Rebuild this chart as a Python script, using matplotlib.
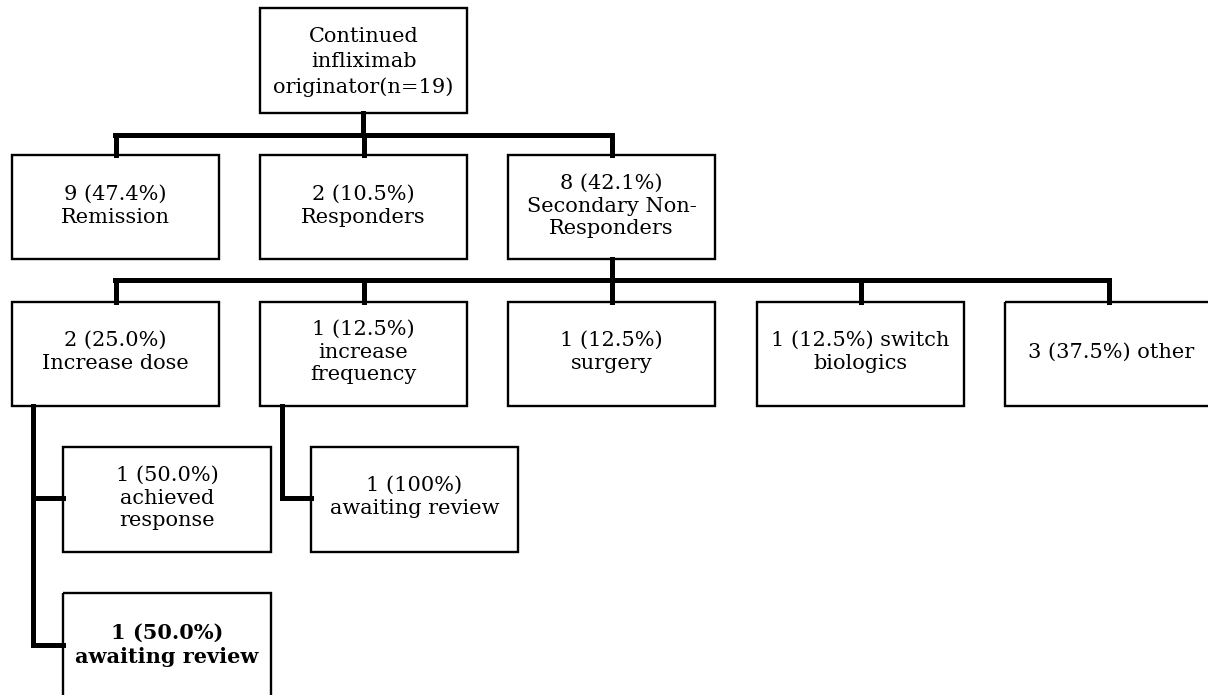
import matplotlib.pyplot as plt
from matplotlib.patches import Rectangle

# labels of the flow chart
top_label = "Continued\ninfliximab\noriginator(n=19)"
outcome_labels = ["9 (47.4%)\nRemission",
                  "2 (10.5%)\nResponders",
                  "8 (42.1%)\nSecondary Non-\nResponders"]
snr_labels = ["2 (25.0%)\nIncrease dose",
              "1 (12.5%)\nincrease\nfrequency",
              "1 (12.5%)\nsurgery",
              "1 (12.5%) switch\nbiologics",
              "3 (37.5%) other"]
dose_labels = ["1 (50.0%)\nachieved\nresponse",
               "1 (50.0%)\nawaiting review"]
freq_labels = ["1 (100%)\nawaiting review"]

# layout (pixels, y downwards)
W, H = 1208, 695
box_w = 207
col_x = [12, 260, 508, 757, 1005]
font = ['DejaVu Serif']
fs = 15
thin = 1.7
thick = 3.6

fig = plt.figure(figsize=(W / 100, H / 100), dpi=100)
ax = fig.add_axes([0, 0, 1, 1])
ax.set_xlim(0, W)
ax.set_ylim(H, 0)
ax.axis('off')


def box(x, y, w, h, text, bold=False, text_y=None, ls=1.25):
    ax.add_patch(Rectangle((x, y), w, h, fill=False, edgecolor='black', lw=thin, zorder=3))
    ty = y + h / 2 if text_y is None else text_y
    ax.text(x + w / 2, ty, text, ha='center', va='center', fontsize=fs,
            family=font, fontweight='bold' if bold else 'normal',
            linespacing=ls, zorder=4)


def line(xs, ys):
    ax.plot(xs, ys, color='black', lw=thick, solid_capstyle='projecting',
            solid_joinstyle='miter', zorder=2)


# top box
box(260, 8, box_w, 105, top_label, ls=1.4, text_y=62)

# first level
line([363, 363], [113, 135])
line([115, 612], [135, 135])
for i, lab in enumerate(outcome_labels):
    cx = col_x[i] + box_w / 2
    line([cx, cx], [135, 155])
    box(col_x[i], 155, box_w, 104, lab, text_y=206)

# second level (secondary non-responders)
line([612, 612], [259, 280])
line([115, 1108], [280, 280])
for i, lab in enumerate(snr_labels):
    cx = col_x[i] + box_w / 2
    line([cx, cx], [280, 302])
    box(col_x[i], 302, box_w + (5 if i == 4 else 0), 104, lab, text_y=352)

# increase dose branch
line([33, 33, 63], [406, 645, 645])
line([33, 63], [498, 498])
box(63, 447, 208, 105, dose_labels[0], text_y=498)
box(63, 593, 208, 120, dose_labels[1], bold=True, text_y=645)

# increase frequency branch
line([282, 282, 311], [406, 498, 498])
box(311, 447, 207, 105, freq_labels[0], text_y=497)

fig.savefig('out.png', dpi=100)
